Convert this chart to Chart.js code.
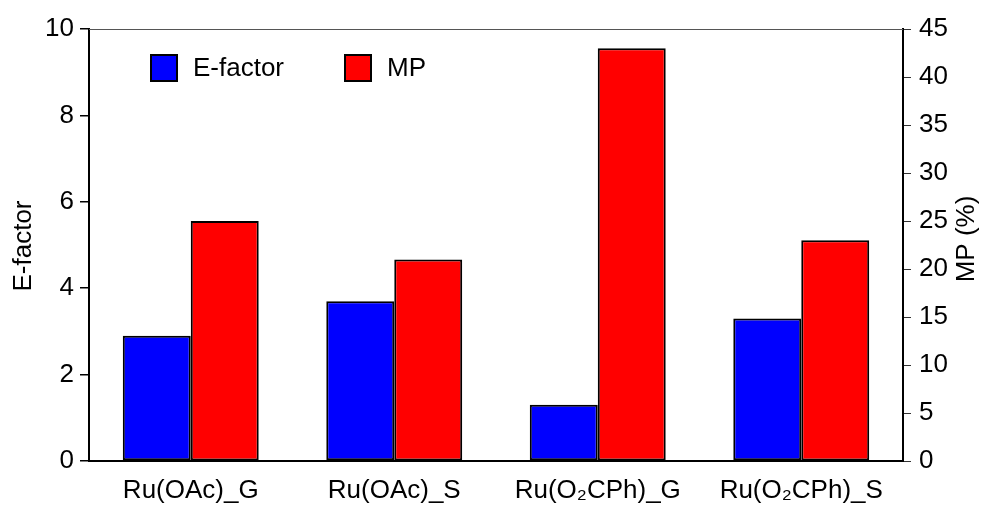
<!DOCTYPE html>
<html>
<head>
<meta charset="utf-8">
<script src="https://cdn.jsdelivr.net/npm/chart.js@4.4.1/dist/chart.umd.min.js"></script>
<style>
  html, body { margin: 0; padding: 0; background: #fff; }
  #wrap { width: 983px; height: 505px; position: relative; }
</style>
</head>
<body>
<div id="wrap"><canvas id="chart"></canvas></div>
<script>
// data
const categories = ['Ru(OAc)_G', 'Ru(OAc)_S', 'Ru(O\u2082CPh)_G', 'Ru(O\u2082CPh)_S'];
const efactorValues = [2.9, 3.7, 1.3, 3.3];
const mpValues = [25, 21, 43, 23];
const leftTicks = [0, 2, 4, 6, 8, 10];
const rightTicks = [0, 5, 10, 15, 20, 25, 30, 35, 40, 45];

const FONT = "'Liberation Sans', Arial, sans-serif";
const FSIZE = 26;

// draws legend, top frame line and both axis titles
const decorations = {
    id: 'decorations',
    afterDraw(chart) {
        const ctx = chart.ctx;
        const area = chart.chartArea;
        ctx.save();

        // thin top frame line
        ctx.strokeStyle = '#555';
        ctx.lineWidth = 1;
        ctx.beginPath();
        ctx.moveTo(area.left, area.top + 0.5);
        ctx.lineTo(area.right, area.top + 0.5);
        ctx.stroke();

        ctx.fillStyle = '#000';
        ctx.font = FSIZE + 'px ' + FONT;
        ctx.textBaseline = 'middle';
        ctx.textAlign = 'center';

        // axis titles, both read bottom to top
        ctx.save();
        ctx.translate(24, 246);
        ctx.rotate(-Math.PI / 2);
        ctx.fillText('E-factor', 0, 0);
        ctx.restore();

        ctx.save();
        ctx.translate(967, 239);
        ctx.rotate(-Math.PI / 2);
        ctx.fillText('MP (%)', 0, 0);
        ctx.restore();

        // legend inside the plot
        const items = chart.data.datasets.map(ds => ({ label: ds.label, color: ds.backgroundColor }));
        const xs = [151, 345];
        items.forEach((it, i) => {
            ctx.fillStyle = it.color;
            ctx.fillRect(xs[i], 55, 26, 26);
            ctx.strokeStyle = '#000';
            ctx.lineWidth = 2;
            ctx.strokeRect(xs[i], 55, 26, 26);
            ctx.fillStyle = '#000';
            ctx.textAlign = 'left';
            ctx.fillText(it.label, xs[i] + 42, 69);
        });
        ctx.restore();
    }
};

new Chart(document.getElementById('chart').getContext('2d'), {
    type: 'bar',
    data: {
        labels: categories,
        datasets: [
            { label: 'E-factor', data: efactorValues, yAxisID: 'y', backgroundColor: '#0000ff', borderColor: '#000', borderWidth: 2, borderSkipped: false },
            { label: 'MP', data: mpValues, yAxisID: 'y2', backgroundColor: '#ff0000', borderColor: '#000', borderWidth: 2, borderSkipped: false }
        ]
    },
    options: {
        responsive: true,
        maintainAspectRatio: false,
        animation: false,
        layout: { padding: { top: 29, left: 0, right: 0, bottom: 0 } },
        datasets: { bar: { categoryPercentage: 0.668, barPercentage: 1.0 } },
        plugins: { legend: { display: false }, tooltip: { enabled: false } },
        scales: {
            x: {
                grid: { display: false },
                border: { display: true, color: '#000', width: 2 },
                ticks: { color: '#000', font: { family: FONT, size: FSIZE }, padding: 6, maxRotation: 0 },
                afterFit(scale) { scale.height = 44; }
            },
            y: {
                position: 'left',
                min: 0, max: 10,
                afterBuildTicks(scale) { scale.ticks = leftTicks.map(v => ({ value: v })); },
                grid: { drawOnChartArea: false, drawTicks: true, tickLength: 9, color: '#000', lineWidth: 1.5 },
                border: { display: true, color: '#000', width: 2 },
                ticks: { color: '#000', font: { family: FONT, size: FSIZE }, padding: 6 },
                afterFit(scale) { scale.width = 89; }
            },
            y2: {
                position: 'right',
                min: 0, max: 45,
                afterBuildTicks(scale) { scale.ticks = rightTicks.map(v => ({ value: v })); },
                grid: { drawOnChartArea: false, drawTicks: true, tickLength: 8, color: '#333', lineWidth: 1 },
                border: { display: true, color: '#000', width: 2 },
                ticks: { color: '#000', font: { family: FONT, size: FSIZE }, padding: 8 },
                afterFit(scale) { scale.width = 80; }
            }
        }
    },
    plugins: [decorations]
});
</script>
</body>
</html>
